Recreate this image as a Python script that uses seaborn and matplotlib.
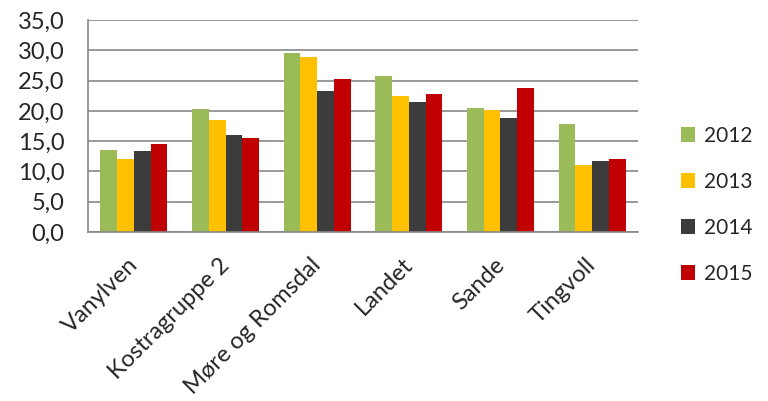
import pandas as pd
import matplotlib
matplotlib.use('Agg')
import matplotlib.pyplot as plt
import matplotlib.transforms as mtransforms
import seaborn as sns

kommuner = ['Vanylven', 'Kostragruppe 2', 'Møre og Romsdal', 'Landet', 'Sande', 'Tingvoll']
years = ['2012', '2013', '2014', '2015']
v2012 = [13.5, 20.3, 29.6, 25.7, 20.5, 17.9]
v2013 = [12.1, 18.5, 28.9, 22.4, 20.1, 11.1]
v2014 = [13.4, 16.0, 23.3, 21.5, 18.8, 11.8]
v2015 = [14.5, 15.6, 25.3, 22.8, 23.7, 12.1]
colors = ['#9BBB59', '#FFC000', '#3C3C3C', '#C00000']

rows = []
for year, vals in zip(years, [v2012, v2013, v2014, v2015]):
    for k, v in zip(kommuner, vals):
        rows.append({'Kommune': k, 'År': year, 'Verdi': v})
df = pd.DataFrame(rows)

sns.set_style('white')
plt.rcParams['font.family'] = ['Lato', 'DejaVu Sans']

fig = plt.figure(figsize=(7.68, 4.01), dpi=100)
ax = fig.add_axes([0.1146, 0.4214, 0.7161, 0.5286])

sns.barplot(data=df, x='Kommune', y='Verdi', hue='År', palette=colors,
            width=0.73, gap=0, saturation=1, edgecolor='none', ax=ax, legend=True)

ax.set_ylim(0, 35)
ax.set_yticks(range(0, 36, 5))
ax.set_yticklabels([f'{t:.1f}'.replace('.', ',') for t in range(0, 36, 5)], fontsize=17)
ax.set_xlim(-0.5, len(kommuner) - 0.5)
ax.set_xlabel('')
ax.set_ylabel('')
ax.yaxis.grid(True, color='#878787', linewidth=1.2)
ax.set_axisbelow(True)
for s in ['top', 'right']:
    ax.spines[s].set_visible(False)
for s in ['left', 'bottom']:
    ax.spines[s].set_color('#878787')
    ax.spines[s].set_linewidth(1.2)
ax.tick_params(axis='y', length=0, pad=17)
ax.tick_params(axis='x', length=0, pad=16)
shift = mtransforms.ScaledTranslation(-5 / 72, 0, fig.dpi_scale_trans)
for lbl in ax.get_xticklabels():
    lbl.set_rotation(45)
    lbl.set_ha('right')
    lbl.set_rotation_mode('anchor')
    lbl.set_fontsize(17)
    lbl.set_transform(lbl.get_transform() + shift)

handles, labels = ax.get_legend_handles_labels()
ax.get_legend().remove()
fig.legend(handles, labels, loc='center left', bbox_to_anchor=(0.862, 0.489),
           frameon=False, fontsize=15, handlelength=0.7, handleheight=0.7,
           handletextpad=0.4, labelspacing=1.25)

fig.savefig('out.png', dpi=100)
